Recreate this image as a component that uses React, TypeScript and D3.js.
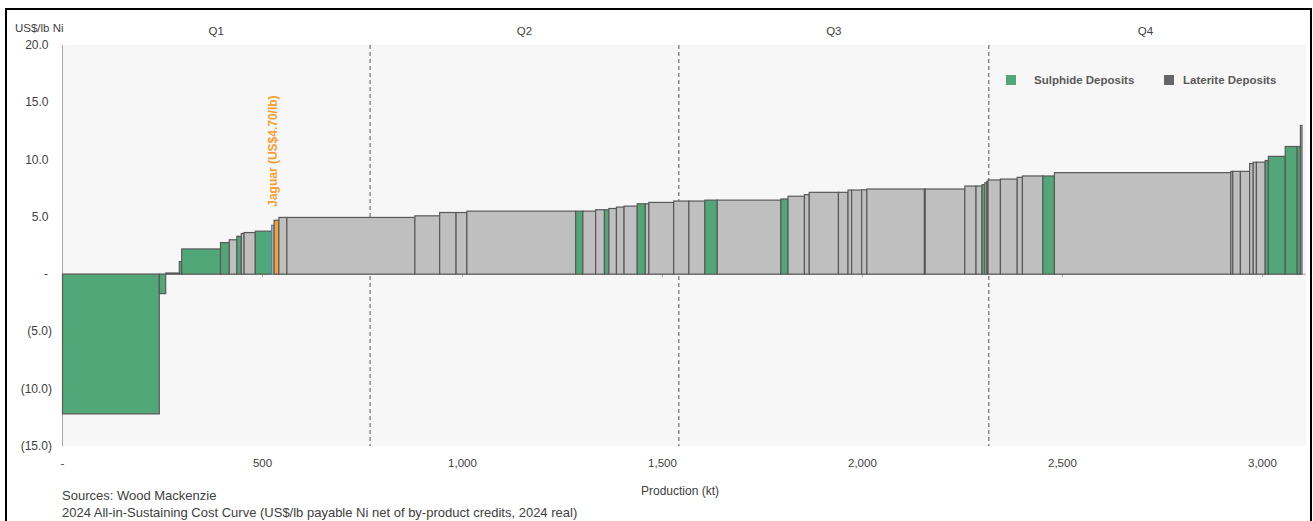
import React from "react";
import * as d3 from "d3";

// Cost curve data, in curve order
const deposits = ["S","S","L","S","S","S","L","S","L","L","S","L","J","L","L","L","L","L","L","S","L","L","S","L","L","L","S","L","L","L","L","S","L","S","L","L","L","L","L","L","L","L","L","L","L","L","S","L","L","L","L","L","L","S","L","L","L","L","L","L","L","S","S","S","S","L"];
const production = [242,16,34,6,97,22,19,11,7,28,41,6,12,20,320,62,41,27,272,18,32,22,11,19,19,33,20,9,62,38,40,31,159,18,41,12,73,24,9,25,13,144,2,99,28,15,7,5,3,31,42,13,51,29,441,5,19,23,9,8,22,8,42,30,8,4];
const costs = [-12.2,-1.7,0.1,1.1,2.2,2.75,3.0,3.3,3.55,3.63,3.75,4.27,4.7,4.95,4.95,5.09,5.38,5.38,5.5,5.5,5.5,5.62,5.62,5.73,5.85,5.94,6.14,6.14,6.26,6.38,6.38,6.46,6.46,6.56,6.8,6.94,7.14,7.14,7.34,7.34,7.36,7.43,7.43,7.43,7.69,7.69,7.81,7.98,8.1,8.22,8.3,8.45,8.57,8.57,8.86,8.97,8.97,8.97,9.65,9.77,9.77,9.92,10.28,11.14,11.14,12.98];

const quartileBreaks = [769, 1541, 2316];
const quartileLabels = ["Q1", "Q2", "Q3", "Q4"];
const xTicks = [0, 500, 1000, 1500, 2000, 2500, 3000];
const yTicks = [20, 15, 10, 5, 0, -5, -10, -15];
const xMax = 3109;
const legendItems = [
  { label: "Sulphide Deposits", key: "S" },
  { label: "Laterite Deposits", key: "L" },
];

const GREEN = "#52a779";
const GRAY = "#bfbfbf";
const ORANGE = "#f7a030";
const STROKE = "#595959";
const FONT = "'Liberation Sans', Arial, sans-serif";

const fmtX = (v: number) => (v === 0 ? "-" : d3.format(",")(v));
const fmtY = (v: number) =>
  v === 0 ? "-" : v < 0 ? `(${Math.abs(v).toFixed(1)})` : v.toFixed(1);

export default function App() {
  const W = 1313, H = 521;
  const x = d3.scaleLinear().domain([0, xMax]).range([62.5, 1306]);
  const y = d3.scaleLinear().domain([-15, 20]).range([446, 45]);

  const starts: number[] = [];
  let acc = 0;
  production.forEach((p) => { starts.push(acc); acc += p; });
  const total = acc;

  const qEdges = [0, ...quartileBreaks, total];
  const jIdx = deposits.indexOf("J");

  return (
    <svg width={W} height={H} style={{ position: "absolute", left: 0, top: 0, background: "#fff" }} fontFamily={FONT}>
      <rect x={6} y={9} width={1305} height={530} fill="#fff" stroke="#000" strokeWidth={2} />
      <rect x={x(0)} y={y(20)} width={x(xMax) - x(0)} height={y(-15) - y(20)} fill="#f7f7f7" />

      {/* quartile lines */}
      {quartileBreaks.map((q) => (
        <line key={q} x1={x(q)} x2={x(q)} y1={y(20)} y2={y(-15)} stroke="#555" strokeDasharray="4,3" strokeWidth={1} />
      ))}
      {quartileLabels.map((l, i) => (
        <text key={l} x={(x(qEdges[i]) + x(qEdges[i + 1])) / 2} y={35} fontSize={11.5} fill="#404040" textAnchor="middle">{l}</text>
      ))}

      {/* axes */}
      <line x1={x(0)} x2={x(0)} y1={y(20)} y2={y(-15)} stroke="#a6a6a6" />
      <line x1={x(0)} x2={x(xMax)} y1={y(0)} y2={y(0)} stroke="#a6a6a6" />
      {xTicks.map((t) => (
        <line key={t} x1={x(t)} x2={x(t)} y1={y(0)} y2={y(0) + 3} stroke="#a6a6a6" />
      ))}

      {/* bars */}
      {costs.map((c, i) => {
        const t = deposits[i];
        const fill = t === "S" ? GREEN : t === "J" ? ORANGE : GRAY;
        const x0 = x(starts[i]);
        const x1 = x(starts[i] + production[i]);
        const yTop = Math.min(y(c), y(0));
        const h = Math.abs(y(c) - y(0));
        return (
          <rect key={i} x={x0} y={yTop} width={x1 - x0} height={h} fill={fill}
            stroke={i === jIdx - 1 ? "#4f81bd" : STROKE} strokeWidth={1.2} />
        );
      })}

      {/* Jaguar label */}
      {jIdx >= 0 && (
        <text transform={`translate(${x(starts[jIdx]) + 3},${y(costs[jIdx]) - 13.5}) rotate(-90)`}
          fontSize={12} fontWeight="bold" fill={ORANGE}>Jaguar (US$4.70/lb)</text>
      )}

      {/* y tick labels */}
      {yTicks.map((t) => (
        <text key={t} x={t < 0 ? 52 : t === 0 ? 48 : 48.5} y={y(t) + 4} fontSize={12} fill="#404040" textAnchor="end">{fmtY(t)}</text>
      ))}
      <text x={15} y={32} fontSize={11.5} fill="#404040">US$/lb Ni</text>

      {/* x tick labels */}
      {xTicks.map((t) => (
        <text key={t} x={x(t)} y={467} fontSize={11.5} fill="#404040" textAnchor="middle">{fmtX(t)}</text>
      ))}
      <text x={680} y={495} fontSize={12} fill="#404040" textAnchor="middle">Production (kt)</text>

      {/* legend */}
      {legendItems.map((it, i) => {
        const lx = i === 0 ? 1006 : 1164;
        return (
          <g key={it.key}>
            <rect x={lx} y={75} width={10} height={10} fill={it.key === "S" ? GREEN : "#666"} />
            <text x={i === 0 ? 1034 : 1183} y={84} fontSize={11.5} fontWeight="bold" fill="#595959">{it.label}</text>
          </g>
        );
      })}

      {/* sources */}
      <text x={62} y={500} fontSize={13} fill="#404040">Sources: Wood Mackenzie</text>
      <text x={62} y={517} fontSize={13} fill="#404040">2024 All-in-Sustaining Cost Curve (US$/lb payable Ni net of by-product credits, 2024 real)</text>
    </svg>
  );
}
